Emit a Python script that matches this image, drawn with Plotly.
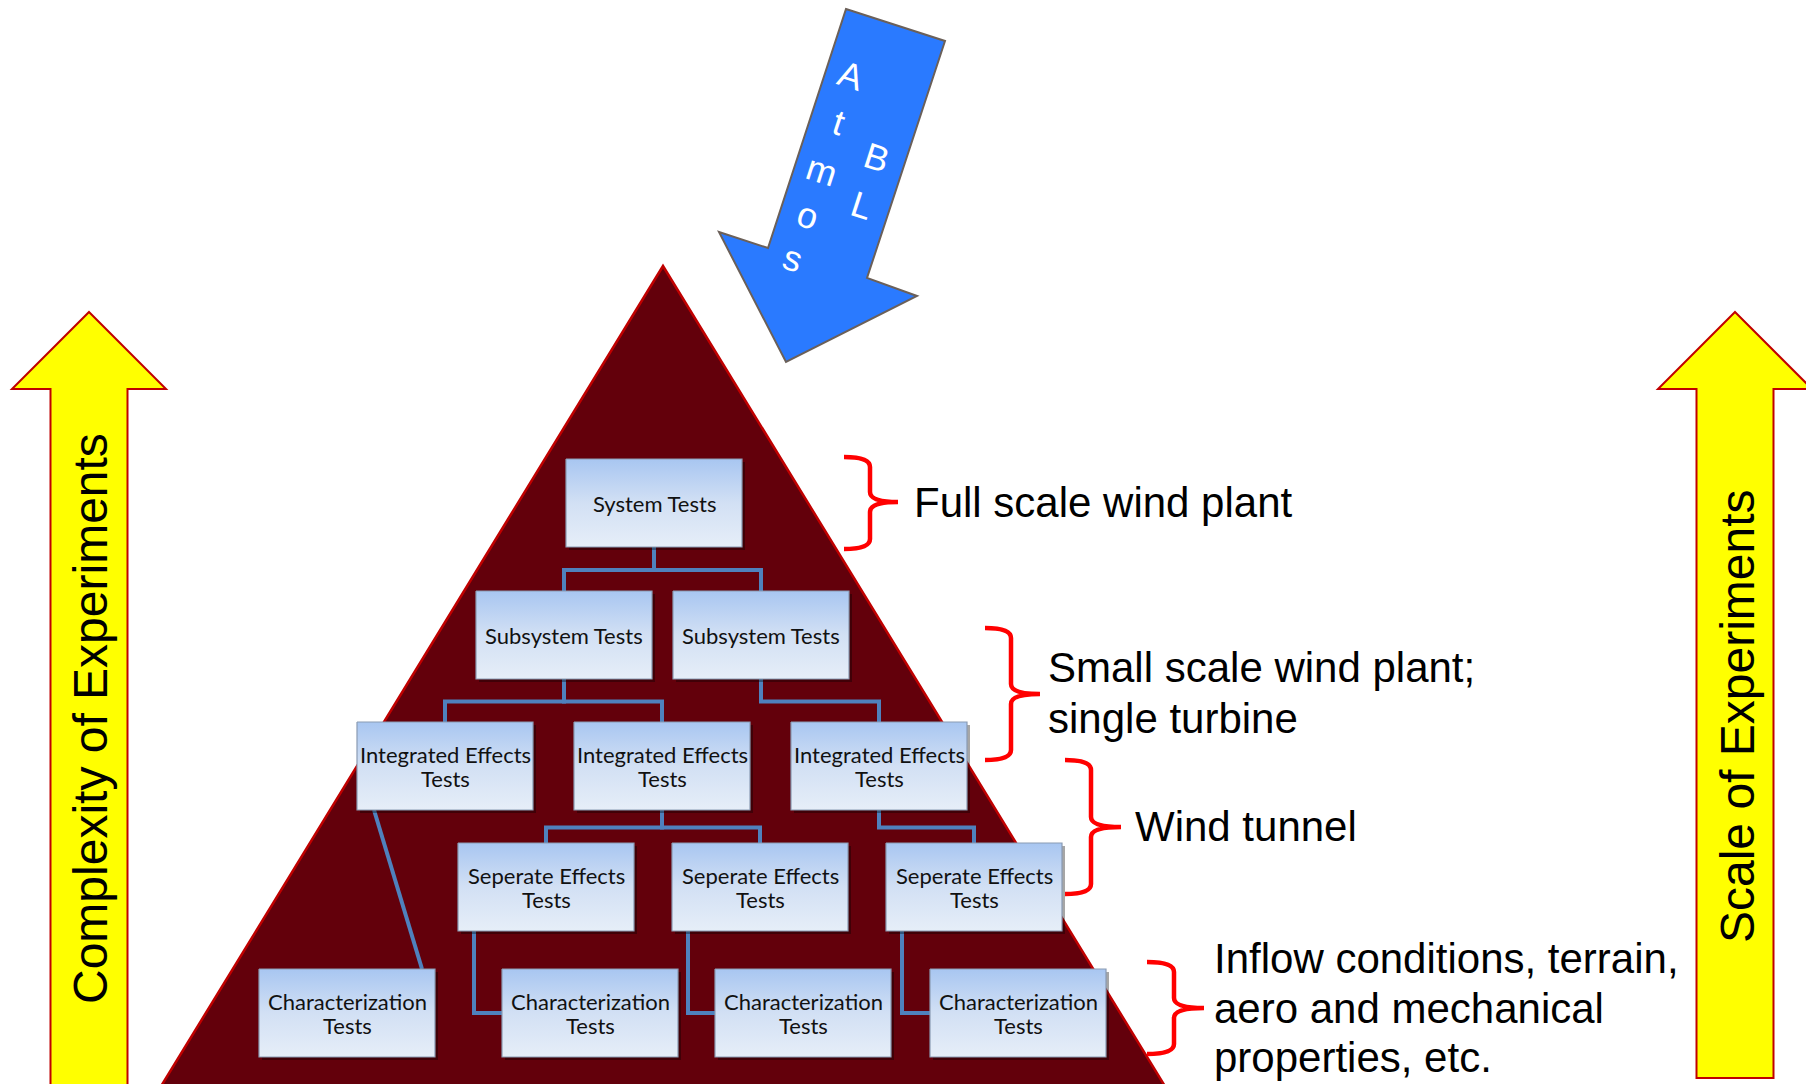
import plotly.graph_objects as go

# ---------------- content (text) ----------------
system_tests = ["System Tests"]
subsystem_tests = ["Subsystem Tests", "Subsystem Tests"]
integrated_tests = ["Integrated Effects<br>Tests"] * 3
separate_tests = ["Seperate Effects<br>Tests"] * 3
characterization_tests = ["Characterization<br>Tests"] * 4

scale_labels = [
    ["Full scale wind plant"],
    ["Small scale wind plant;", "single turbine"],
    ["Wind tunnel"],
    ["Inflow conditions, terrain,", "aero and mechanical", "properties, etc."],
]
left_axis_label = "Complexity of Experiments"
right_axis_label = "Scale of Experiments"
arrow_letters_left = ["A", "t", "m", "o", "s"]
arrow_letters_right = ["B", "L"]

# ---------------- layout geometry (pixels, y downward) ----------------
W, H = 1806, 1084
BOX_W, BOX_H = 176, 88
LINE_GAP = 24
tier_tops = [459, 591, 722, 843, 969]
tier_lefts = [[566], [476, 673], [357, 574, 791], [458, 672, 886], [259, 502, 715, 930]]
tiers = [system_tests, subsystem_tests, integrated_tests, separate_tests, characterization_tests]

# tree edges: (tier, idx) -> (tier, idx), kind
edges = [
    ((0, 0), (1, 0), "elbow"), ((0, 0), (1, 1), "elbow"),
    ((1, 0), (2, 0), "elbow"), ((1, 0), (2, 1), "elbow"),
    ((1, 1), (2, 2), "elbow"),
    ((2, 1), (3, 0), "elbow"), ((2, 1), (3, 1), "elbow"),
    ((2, 2), (3, 2), "elbow"),
    ((2, 0), (4, 0), "diag"),
    ((3, 0), (4, 1), "side"), ((3, 1), (4, 2), "side"), ((3, 2), (4, 3), "side"),
]

pyr_apex = (663, 266)
pyr_slope = 0.612

brace_geo = [  # left x, spine x, tip x, top y, mid y, bottom y
    (844, 870, 898, 457, 502, 549),
    (985, 1011, 1040, 628, 694, 760),
    (1065, 1091, 1121, 760, 827, 894),
    (1147, 1174, 1204, 962, 1008, 1054),
]
label_pos = [  # x left, list of line y centres
    (912, [502]),
    (1046, [667, 718]),
    (1133, [826]),
    (1212, [958, 1008, 1057]),
]

fig = go.Figure()
shapes = []
annotations = []

def poly_path(pts):
    return "M " + " L ".join(f"{x},{y}" for x, y in pts) + " Z"

# yellow arrows
def up_arrow(cx, tip_y, wing_y, half_wing, half_shaft, bottom):
    return [(cx, tip_y), (cx + half_wing, wing_y), (cx + half_shaft, wing_y),
            (cx + half_shaft, bottom), (cx - half_shaft, bottom),
            (cx - half_shaft, wing_y), (cx - half_wing, wing_y)]

for cx, bottom in [(89, 1120), (1735, 1078)]:
    shapes.append(dict(type="path", xref="x", yref="y", layer="below",
                       path=poly_path(up_arrow(cx, 312, 389, 77, 38.5, bottom)),
                       fillcolor="#ffff00", line=dict(color="#c00000", width=2)))

# pyramid
ax, ay = pyr_apex
yb = 1120
shapes.append(dict(type="path", xref="x", yref="y", layer="below",
                   path=poly_path([(ax, ay), (ax + pyr_slope * (yb - ay), yb), (ax - pyr_slope * (yb - ay), yb)]),
                   fillcolor="#63000b", line=dict(color="#c00000", width=2.5)))

# blue arrow
blue_pts = [(846, 9), (945, 41), (867, 278), (917, 296), (786, 362), (719, 232), (768, 248)]
shapes.append(dict(type="path", xref="x", yref="y", layer="below",
                   path=poly_path(blue_pts), fillcolor="#2a7aff",
                   line=dict(color="#6b6059", width=2)))

# connectors
conn = dict(color="#4f81bd", width=4)
def box(t, i):
    return tier_lefts[t][i], tier_tops[t]
for (pt, pi), (ct, ci), kind in edges:
    px, py = box(pt, pi)
    cx, cy = box(ct, ci)
    if kind == "elbow":
        x0 = px + BOX_W / 2
        x1 = cx + BOX_W / 2
        ym = (py + BOX_H + cy) / 2 + 1
        pts = [(x0, py + BOX_H), (x0, ym), (x1, ym), (x1, cy)]
    elif kind == "side":
        x0 = px + 16
        ym = cy + BOX_H / 2
        pts = [(x0, py + BOX_H), (x0, ym), (cx, ym)]
    else:
        pts = [(px + 17, py + BOX_H), (cx + BOX_W - 13, cy)]
    shapes.append(dict(type="path", xref="x", yref="y", layer="below",
                       path="M " + " L ".join(f"{x},{y}" for x, y in pts),
                       line=conn))

# boxes with gradient fill
for t, labels in enumerate(tiers):
    for i, lab in enumerate(labels):
        x0, y0 = tier_lefts[t][i], tier_tops[t]
        x1, y1 = x0 + BOX_W, y0 + BOX_H
        # shadow
        fig.add_trace(go.Scatter(x=[x0 + 3, x1 + 3, x1 + 3, x0 + 3, x0 + 3],
                                 y=[y0 + 3, y0 + 3, y1 + 3, y1 + 3, y0 + 3],
                                 mode="lines", fill="toself", fillcolor="rgba(0,0,0,0.35)",
                                 line=dict(width=0), hoverinfo="skip", showlegend=False))
        fig.add_trace(go.Scatter(x=[x0, x1, x1, x0, x0], y=[y0, y0, y1, y1, y0],
                                 mode="lines", fill="toself",
                                 fillgradient=dict(type="vertical",
                                                   colorscale=[[0, "#e6eef8"], [0.5, "#d2e0f4"], [1, "#a8c6f1"]]),
                                 line=dict(color="#8a9bb3", width=1.2),
                                 hoverinfo="skip", showlegend=False))
        parts = lab.split("<br>")
        n = len(parts)
        for k, part in enumerate(parts):
            yy = (y0 + y1) / 2 + (k - (n - 1) / 2) * LINE_GAP
            annotations.append(dict(x=(x0 + x1) / 2, y=yy, xref="x", yref="y",
                                    text=part, showarrow=False, yanchor="middle",
                                    font=dict(family="Lato", size=22, color="#111111")))

# braces
for (L, S, T, top, mid, bot) in brace_geo:
    r = 10
    path = (f"M {L},{top} Q {S},{top} {S},{top + r} L {S},{mid - r} Q {S},{mid} {T},{mid} "
            f"Q {S},{mid} {S},{mid + r} L {S},{bot - r} Q {S},{bot} {L},{bot}")
    shapes.append(dict(type="path", xref="x", yref="y", path=path,
                       line=dict(color="#ff0000", width=4.5)))

# scale labels
for lines, (lx, ys) in zip(scale_labels, label_pos):
    for txt, yy in zip(lines, ys):
        annotations.append(dict(x=lx, y=yy, xref="x", yref="y", text=txt, showarrow=False,
                                xanchor="left", yanchor="middle",
                                font=dict(family="Liberation Sans", size=42, color="#000000")))

# vertical arrow labels
annotations.append(dict(x=90, y=719, xref="x", yref="y", text=left_axis_label, showarrow=False,
                        textangle=-90, font=dict(family="Liberation Sans", size=48, color="#000000")))
annotations.append(dict(x=1737, y=716, xref="x", yref="y", text=right_axis_label, showarrow=False,
                        textangle=-90, font=dict(family="Liberation Sans", size=48, color="#000000")))

# letters on blue arrow
for ch, (x, y) in zip(arrow_letters_left, [(851, 75), (839, 122), (822, 170), (808, 215), (793, 258)]):
    annotations.append(dict(x=x, y=y, xref="x", yref="y", text=ch, showarrow=False, textangle=18,
                            font=dict(family="Liberation Sans", size=36, color="#ffffff")))
for ch, (x, y) in zip(arrow_letters_right, [(877, 157), (862, 205)]):
    annotations.append(dict(x=x, y=y, xref="x", yref="y", text=ch, showarrow=False, textangle=18,
                            font=dict(family="Liberation Sans", size=36, color="#ffffff")))

fig.update_layout(
    width=W, height=H, margin=dict(l=0, r=0, t=0, b=0),
    paper_bgcolor="#ffffff", plot_bgcolor="#ffffff",
    xaxis=dict(range=[0, W], visible=False, fixedrange=True),
    yaxis=dict(range=[H, 0], visible=False, fixedrange=True),
    shapes=shapes, annotations=annotations, showlegend=False,
)

fig.write_html("out.html", config={"displayModeBar": False, "staticPlot": True},
               post_script="document.body.style.margin='0';document.body.style.overflow='hidden';")
